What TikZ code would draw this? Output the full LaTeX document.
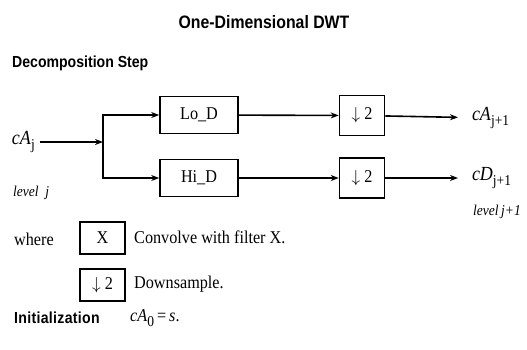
\documentclass[tikz,border=0pt]{standalone}
\usepackage{fontspec}
\setmainfont[FakeStretch=0.9]{Liberation Serif}
\newfontfamily\headfont[FakeStretch=0.88]{Liberation Sans}
\usetikzlibrary{arrows.meta,positioning}

\newcommand{\lowsub}[1]{\raisebox{-4.5pt}{\fontsize{15}{15}\selectfont #1}}
\newcommand{\dsmark}{$\downarrow$\ 2}

\tikzset{
  filterbox/.style={draw, line width=1.6pt, minimum width=78pt, minimum height=37pt, font=\fontsize{18}{20}\selectfont},
  downbox/.style={draw, line width=1.6pt, minimum width=45pt, minimum height=40pt, font=\fontsize{18}{20}\selectfont},
  keybox/.style={draw, line width=1.6pt, minimum width=45pt, minimum height=32pt, font=\fontsize{18}{20}\selectfont},
  flow/.style={line width=1.6pt, -{Stealth[length=8pt,width=6pt]}},
  heading/.style={font=\headfont\bfseries\fontsize{16}{18}\selectfont},
  txt/.style={font=\fontsize{18}{20}\selectfont},
  sig/.style={font=\fontsize{20}{22}\selectfont},
  lvl/.style={font=\itshape\fontsize{15}{17}\selectfont}
}

\begin{document}
\begin{tikzpicture}[x=1pt, y=-1pt]
    \useasboundingbox (0,0) rectangle (527,349);

    % Titles
    \node[font=\headfont\bfseries\fontsize{18}{20}\selectfont] (title) at (264,22) {One-Dimensional DWT};
    \node[heading, anchor=west, inner sep=0pt] (decomp) at (12,63) {Decomposition Step};

    % Input and split point
    \node[sig, anchor=west, inner sep=0pt, outer xsep=5pt] (cAj) at (7,142) {\textit{cA}\lowsub{j}};
    \node[lvl, anchor=west, inner sep=0pt] (levj) at (13,193) {level\ \ j};
    \coordinate (split) at (103,142);

    % Filters and downsamplers
    \node[filterbox] (lo) at (199,115) {Lo\_D};
    \node[filterbox] (hi) at (199,178) {Hi\_D};
    \node[downbox] (dslo) at (362,115.5) {\dsmark};
    \node[downbox] (dshi) at (362,178) {\dsmark};

    % Outputs
    \node[sig, anchor=west, inner xsep=0pt, outer xsep=14pt] (cAout) at (458,118) {\textit{cA}\lowsub{j+1}};
    \node[sig, anchor=west, inner xsep=0pt, outer xsep=14pt] (cDout) at (458,178) {\textit{cD}\lowsub{j+1}};
    \node[lvl, anchor=west, inner sep=0pt] (levj1) at (473,212) {level\,j+1};

    % Connectors
    \draw[flow] (cAj) -- (split);
    \draw[flow] (split) |- (lo);
    \draw[flow] (split) |- (hi);
    \draw[flow] (lo) -- (dslo);
    \draw[flow] (hi) -- (dshi);
    \draw[flow] (dslo) -- (cAout);
    \draw[flow] (dshi) -- (cDout);

    % Key
    \node[txt, anchor=west, inner sep=0pt] (where) at (14,239) {where};
    \node[keybox] (keyfilt) at (102.5,238) {X};
    \node[txt, anchor=west, inner sep=0pt] (convtxt) at (134,237) {Convolve with filter X.};
    \node[keybox] (keyds) at (102.5,285) {\dsmark};
    \node[txt, anchor=west, inner sep=0pt] (dstxt) at (134,284) {Downsample.};

    % Initialization
    \node[heading, anchor=west, inner sep=0pt] (init) at (14,318) {\addfontfeature{LetterSpace=2}Initialization};
    \node[txt, anchor=west, inner sep=0pt] (inittxt) at (130,318) {\textit{cA}\lowsub{0}\,=\,\textit{s}.};
\end{tikzpicture}
\end{document}
